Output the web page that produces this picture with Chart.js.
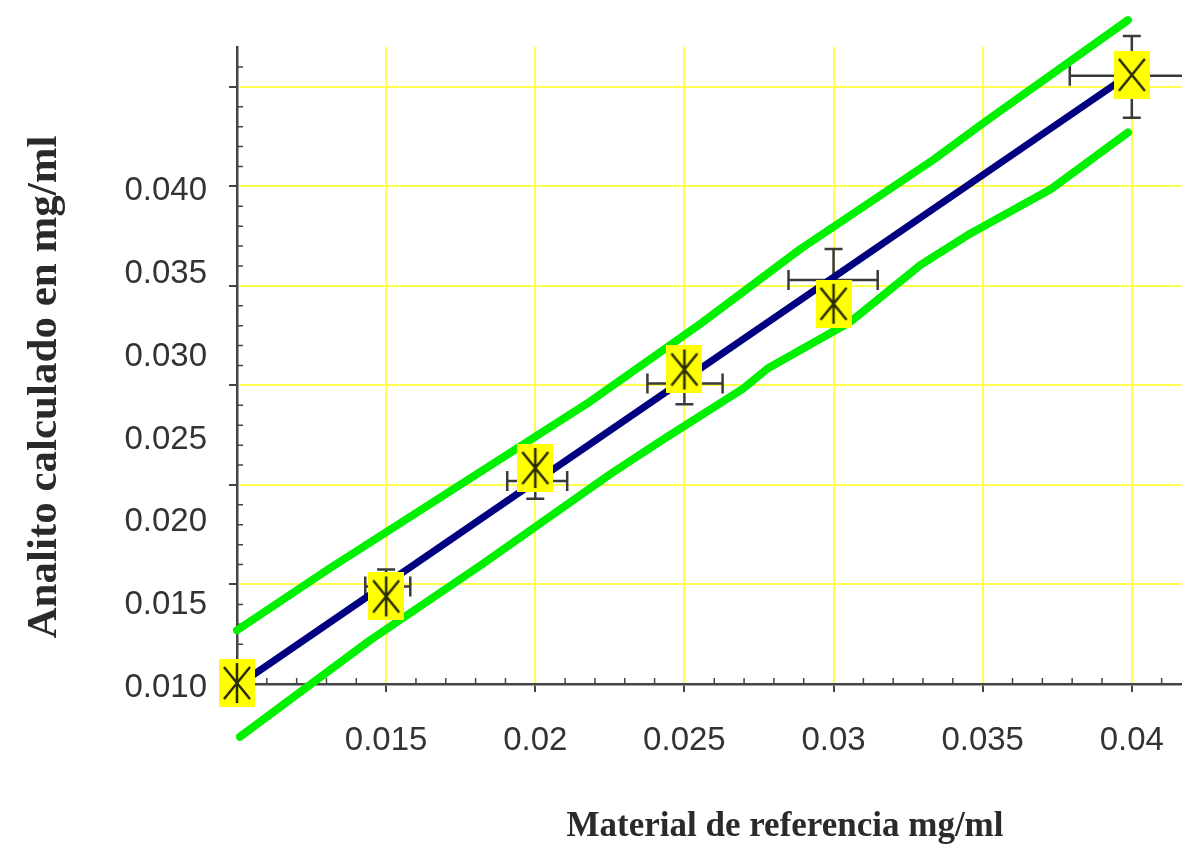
<!DOCTYPE html>
<html>
<head>
<meta charset="utf-8">
<title>Material de referencia vs analito calculado</title>
<script src="https://cdn.jsdelivr.net/npm/chart.js@4.4.1/dist/chart.umd.min.js"></script>
<style>
  html, body { margin: 0; padding: 0; background: #fff; overflow: hidden; }
  #wrap { width: 1354px; height: 848px; }
</style>
</head>
<body>
<div id="wrap"><canvas id="chart" width="1354" height="848"></canvas></div>
<script>
// measured points: reference material (x) vs calculated analyte (y), mg/ml
const refX = [0.010, 0.015, 0.020, 0.025, 0.030, 0.040];
const calcY = [0.01005, 0.0144, 0.02085, 0.0258, 0.0291, 0.0406];

// error bars (sit a little off the markers in the source figure)
const errY = [null, 0.0149, 0.0202, 0.0251, 0.0303, 0.04055];
const errXLow = [null, 0.0143, 0.01906, 0.02376, 0.02849, 0.03792];
const errXHigh = [null, 0.01581, 0.02107, 0.02628, 0.03148, 0.0421];
const errYLow = [null, 0.01405, 0.0193, 0.02405, 0.02875, 0.03845];
const errYHigh = [null, 0.01575, 0.0211, 0.02615, 0.03185, 0.04255];

// regression line
const fitX = [0.010, 0.040];
const fitY = [0.0099, 0.0407];

// confidence band
const upperX = [0.0100, 0.0131, 0.02185, 0.02554, 0.02889, 0.03336, 0.03504, 0.03987];
const upperY = [0.0127, 0.0158, 0.0242, 0.0281, 0.03185, 0.03635, 0.0382, 0.04335];
const lowerX = [0.0101, 0.01446, 0.01816, 0.02252, 0.0242, 0.02698, 0.02779, 0.03057, 0.03292, 0.0345, 0.03728, 0.03987];
const lowerY = [0.00735, 0.0122, 0.01595, 0.02055, 0.0222, 0.02485, 0.02585, 0.0282, 0.03105, 0.03255, 0.03485, 0.0377];

// ticks
const xTicks = [0.010, 0.015, 0.020, 0.025, 0.030, 0.035, 0.040];
const xTickLabels = ['', '0.015', '0.02', '0.025', '0.03', '0.035', '0.04'];
const yGridTicks = [0.010, 0.015, 0.020, 0.025, 0.030, 0.035, 0.040];
const yLabelTicks = [0.010, 0.015, 0.020, 0.025, 0.030, 0.035, 0.040];
const yTickLabels = ['0.010', '0.015', '0.020', '0.025', '0.030', '0.035', '0.040'];

const GRID = '#ffff4d';
const AXIS = '#444';

function makeMarker(withBar) {
    const c = document.createElement('canvas');
    c.width = 36;
    c.height = 48;
    const g = c.getContext('2d');
    g.fillStyle = '#ffff00';
    g.fillRect(0, 0, 36, 48);
    g.strokeStyle = '#2b2b00';
    g.lineWidth = 2.5;
    g.beginPath();
    g.moveTo(5, 8); g.lineTo(31, 40);
    g.moveTo(31, 8); g.lineTo(5, 40);
    if (withBar) { g.moveTo(18, 4); g.lineTo(18, 44); }
    g.stroke();
    return c;
}
const markStar = makeMarker(true);
const markX = makeMarker(false);

function pts(xs, ys) {
    return xs.map((v, i) => ({ x: v, y: ys[i] }));
}

// small inward ticks between the labelled ones
const minorTicks = {
    id: 'minorTicks',
    beforeDatasetsDraw(chart) {
        const { ctx, scales: { x, y } } = chart;
        ctx.save();
        ctx.strokeStyle = AXIS;
        ctx.lineWidth = 1.5;
        ctx.beginPath();
        for (let i = 11; i <= 46; i++) {
            if (i % 5 === 0) continue;
            const px = x.getPixelForValue(i / 1000);
            ctx.moveTo(px, y.bottom);
            ctx.lineTo(px, y.bottom - 6);
        }
        for (let i = 11; i <= 41; i++) {
            if (i % 5 === 0) continue;
            const py = y.getPixelForValue(i / 1000);
            ctx.moveTo(x.left, py);
            ctx.lineTo(x.left + 6, py);
        }
        ctx.stroke();
        ctx.restore();
    }
};

const errorBars = {
    id: 'errorBars',
    beforeDatasetsDraw(chart) {
        const { ctx, scales: { x, y } } = chart;
        ctx.save();
        ctx.strokeStyle = '#3a3a3a';
        ctx.lineWidth = 2.5;
        ctx.beginPath();
        refX.forEach((v, i) => {
            if (errY[i] === null) return;
            const cx = x.getPixelForValue(v);
            const cy = y.getPixelForValue(errY[i]);
            const x0 = x.getPixelForValue(errXLow[i]);
            const x1 = x.getPixelForValue(errXHigh[i]);
            const y0 = y.getPixelForValue(errYLow[i]);
            const y1 = y.getPixelForValue(errYHigh[i]);
            ctx.moveTo(x0, cy); ctx.lineTo(x1, cy);
            ctx.moveTo(x0, cy - 10); ctx.lineTo(x0, cy + 10);
            ctx.moveTo(x1, cy - 10); ctx.lineTo(x1, cy + 10);
            ctx.moveTo(cx, y0); ctx.lineTo(cx, y1);
            ctx.moveTo(cx - 9, y0); ctx.lineTo(cx + 9, y0);
            ctx.moveTo(cx - 9, y1); ctx.lineTo(cx + 9, y1);
        });
        ctx.stroke();
        ctx.restore();
    }
};

const ctx = document.getElementById('chart').getContext('2d');
new Chart(ctx, {
    type: 'scatter',
    data: {
        datasets: [
            {
                label: 'Muestras',
                data: pts(refX, calcY),
                pointStyle: c => c.dataIndex === refX.length - 1 ? markX : markStar,
                pointRadius: 20,
                order: 0,
                clip: false
            },
            {
                label: 'Regresión',
                data: pts(fitX, fitY),
                showLine: true,
                borderColor: '#000080',
                borderWidth: 7,
                pointRadius: 0,
                order: 1,
                clip: false
            },
            {
                label: 'Límite superior',
                data: pts(upperX, upperY),
                showLine: true,
                borderColor: '#00f000',
                borderWidth: 8,
                borderCapStyle: 'round',
                borderJoinStyle: 'round',
                pointRadius: 0,
                order: 2,
                clip: false
            },
            {
                label: 'Límite inferior',
                data: pts(lowerX, lowerY),
                showLine: true,
                borderColor: '#00f000',
                borderWidth: 8,
                borderCapStyle: 'round',
                borderJoinStyle: 'round',
                pointRadius: 0,
                order: 2,
                clip: false
            }
        ]
    },
    options: {
        responsive: false,
        animation: false,
        devicePixelRatio: 1,
        events: [],
        layout: { padding: { top: 47, left: 0, right: 0, bottom: 0 } },
        plugins: {
            legend: { display: false },
            tooltip: { enabled: false }
        },
        scales: {
            x: {
                type: 'linear',
                min: 0.010,
                max: 0.046745,
                afterBuildTicks: s => { s.ticks = xTicks.map(v => ({ value: v })); },
                afterFit: s => { s.height = 164; },
                grid: {
                    color: c => c.tick && c.tick.value === 0.010 ? 'rgba(0,0,0,0)' : GRID,
                    lineWidth: 2,
                    tickColor: AXIS,
                    tickWidth: 2,
                    tickLength: 8
                },
                border: { color: AXIS, width: 2.5 },
                ticks: {
                    autoSkip: false,
                    maxRotation: 0,
                    padding: 29,
                    color: '#333',
                    font: { family: 'Liberation Sans', size: 33 },
                    callback: (v, i) => xTickLabels[i]
                },
                title: {
                    display: true,
                    text: 'Material de referencia mg/ml',
                    color: '#2a2a2a',
                    font: { family: 'Liberation Serif', size: 35, weight: 'bold' },
                    padding: { top: 0, bottom: 0 }
                }
            },
            y: {
                type: 'linear',
                position: 'left',
                weight: 0,
                min: 0.010,
                max: 0.0420,
                afterBuildTicks: s => { s.ticks = yGridTicks.map(v => ({ value: v })); },
                afterFit: s => { s.width = 8; },
                grid: {
                    color: c => c.tick && c.tick.value === 0.010 ? 'rgba(0,0,0,0)' : GRID,
                    lineWidth: 2,
                    tickColor: AXIS,
                    tickWidth: 2,
                    tickLength: 8
                },
                border: { color: AXIS, width: 2.5 },
                ticks: { display: false }
            },
            yLab: {
                type: 'linear',
                position: 'left',
                weight: 1,
                min: 0.01023,
                max: 0.0487,
                afterBuildTicks: s => { s.ticks = yLabelTicks.map(v => ({ value: v })); },
                afterFit: s => { s.width = 229; },
                grid: { display: false, drawTicks: false },
                border: { display: false },
                ticks: {
                    padding: 22,
                    color: '#333',
                    font: { family: 'Liberation Sans', size: 33 },
                    callback: (v, i) => yTickLabels[i]
                },
                title: {
                    display: true,
                    text: 'Analito calculado en mg/ml\u00a0\u00a0\u00a0\u00a0',
                    color: '#2a2a2a',
                    font: { family: 'Liberation Serif', size: 43, weight: 'bold' },
                    padding: { top: 19, bottom: 0 }
                }
            }
        }
    },
    plugins: [minorTicks, errorBars]
});
</script>
</body>
</html>
